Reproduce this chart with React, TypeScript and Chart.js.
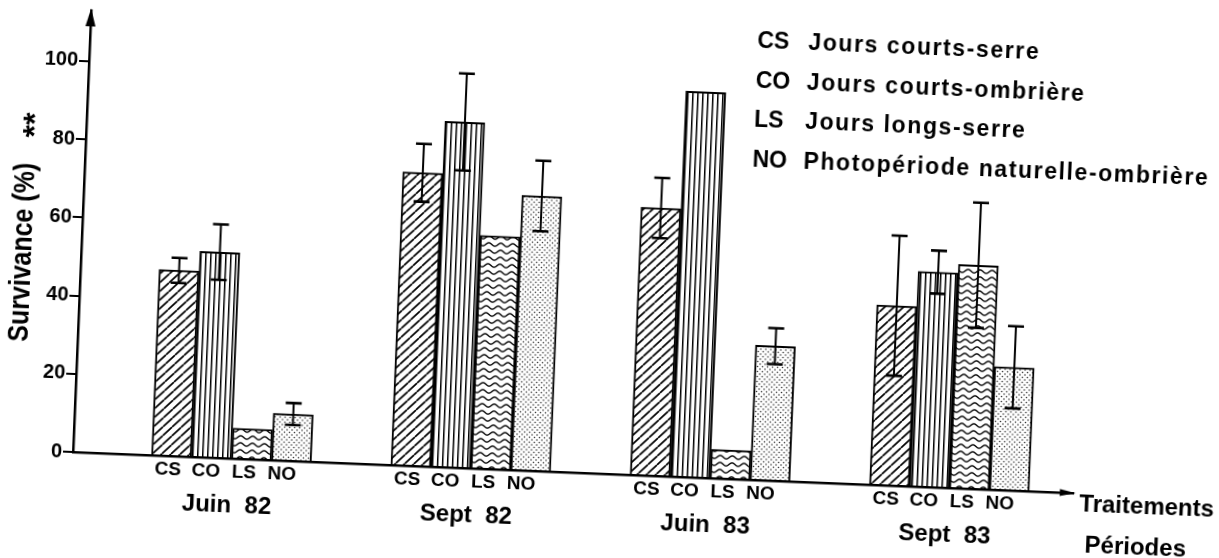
import { useEffect, useRef } from 'react';
import { Chart, registerables } from 'chart.js';

Chart.register(...registerables);

// ---------- data ----------
const periods = ['Juin  82', 'Sept  82', 'Juin  83', 'Sept  83'];
const treatmentCodes = ['CS', 'CO', 'LS', 'NO'];
const treatmentNames = [
  'Jours courts-serre',
  'Jours courts-ombrière',
  'Jours longs-serre',
  'Photopériode naturelle-ombrière',
];
const csValues = [47.5, 75.0, 68.5, 46.0];
const coValues = [52.6, 88.4, 98.6, 55.0];
const lsValues = [7.8, 59.6, 7.4, 57.2];
const noValues = [12.0, 70.3, 34.4, 31.5];
const csErrors = [3.2, 7.4, 7.7, 17.9];
const coErrors = [7.1, 12.4, null, 5.5];
const lsErrors = [null, null, null, 16.0];
const noErrors = [2.8, 9.0, 4.6, 10.5];
const yTicks = [0, 20, 40, 60, 80, 100];
const yAxisTitle = 'Survivance (%)';
const yAxisMark = '**';
const xAxisTitles = ['Traitements', 'Périodes'];

const valueSeries = [csValues, coValues, lsValues, noValues];
const errorSeries = [csErrors, coErrors, lsErrors, noErrors];

const FONT = '"Liberation Sans", Arial, Helvetica, sans-serif';

function makePattern(kind: string): CanvasPattern | string {
  const c = document.createElement('canvas');
  const g = c.getContext('2d');
  if (!g) return '#fff';
  if (kind === 'diag') {
    const s = 9;
    c.width = s; c.height = s;
    g.fillStyle = '#fff'; g.fillRect(0, 0, s, s);
    g.strokeStyle = '#000'; g.lineWidth = 1.7;
    g.beginPath();
    for (const o of [-s, 0, s]) { g.moveTo(o, s); g.lineTo(o + s, 0); }
    g.stroke();
  } else if (kind === 'vert') {
    c.width = 5; c.height = 5;
    g.fillStyle = '#fff'; g.fillRect(0, 0, 5, 5);
    g.fillStyle = '#000'; g.fillRect(2, 0, 1.5, 5);
  } else if (kind === 'wave') {
    const w = 12, h = 7;
    c.width = w; c.height = h;
    g.fillStyle = '#fff'; g.fillRect(0, 0, w, h);
    g.strokeStyle = '#000'; g.lineWidth = 1.4;
    g.beginPath();
    for (let x = -1; x <= w + 1; x += 0.5) {
      const y = 3.5 - 1.6 * Math.cos((2 * Math.PI * x) / w);
      if (x === -1) g.moveTo(x, y); else g.lineTo(x, y);
    }
    g.stroke();
  } else {
    c.width = 5; c.height = 5;
    g.fillStyle = '#fff'; g.fillRect(0, 0, 5, 5);
    g.fillStyle = '#333';
    g.beginPath(); g.arc(1, 1, 0.8, 0, Math.PI * 2); g.fill();
    g.beginPath(); g.arc(3.5, 3.5, 0.8, 0, Math.PI * 2); g.fill();
  }
  return g.createPattern(c, 'repeat') || '#fff';
}

const errorBarPlugin = {
  id: 'errorBars',
  afterDatasetsDraw(chart: any) {
    const ctx = chart.ctx;
    const y = chart.scales.y;
    ctx.save();
    ctx.strokeStyle = '#000';
    errorSeries.forEach((errs, k) => {
      const meta = chart.getDatasetMeta(k);
      meta.data.forEach((bar: any, i: number) => {
        const e = errs[i];
        if (e == null) return;
        const v = valueSeries[k][i];
        const x = bar.x;
        const t = y.getPixelForValue(v + e);
        const b = y.getPixelForValue(v - e);
        ctx.lineWidth = 2;
        ctx.beginPath(); ctx.moveTo(x, t); ctx.lineTo(x, b); ctx.stroke();
        ctx.lineWidth = 2.6;
        ctx.beginPath();
        ctx.moveTo(x - 8, t); ctx.lineTo(x + 8, t);
        ctx.moveTo(x - 8, b); ctx.lineTo(x + 8, b);
        ctx.stroke();
      });
    });
    ctx.restore();
  },
};

const decorPlugin = {
  id: 'decor',
  afterDraw(chart: any) {
    const ctx = chart.ctx;
    const { left, right, top, bottom } = chart.chartArea;
    const xs = chart.scales.x;
    ctx.save();
    ctx.fillStyle = '#000';
    // arrows
    ctx.beginPath();
    ctx.moveTo(left, top - 2); ctx.lineTo(left - 5, top + 16); ctx.lineTo(left + 5, top + 16); ctx.closePath();
    ctx.fill();
    ctx.beginPath();
    ctx.moveTo(right + 2, bottom); ctx.lineTo(right - 14, bottom - 3.5); ctx.lineTo(right - 14, bottom + 3.5); ctx.closePath();
    ctx.fill();

    // category labels
    ctx.textAlign = 'center';
    ctx.textBaseline = 'middle';
    periods.forEach((p, i) => {
      const gc = xs.getPixelForValue(i);
      ctx.font = `bold 19px ${FONT}`;
      treatmentCodes.forEach((code, k) => {
        ctx.fillText(code, gc - 6 + (k - 1.5) * 38, bottom + 14);
      });
      ctx.font = `bold 24px ${FONT}`;
      ctx.fillText(p, gc - 3, bottom + 47);
    });

    // x axis titles
    ctx.textAlign = 'left';
    ctx.font = `bold 24px ${FONT}`;
    ctx.fillText(xAxisTitles[0], right + 6, bottom + 11);
    ctx.fillText(xAxisTitles[1], right + 13, bottom + 52);

    // legend
    treatmentCodes.forEach((code, k) => {
      const yy = bottom - 438 + k * 39.5;
      ctx.font = `bold 23px ${FONT}`;
      (ctx as any).letterSpacing = '0px';
      ctx.fillText(code, left + 667, yy);
      (ctx as any).letterSpacing = '1.6px';
      ctx.fillText(treatmentNames[k], left + 718, yy);
    });
    (ctx as any).letterSpacing = '0px';

    // y axis title
    ctx.translate(left - 58, bottom);
    ctx.rotate(-Math.PI / 2);
    ctx.textAlign = 'center';
    ctx.font = `bold 30px ${FONT}`;
    ctx.fillText(yAxisTitle, 197.5, 0, 179);
    ctx.font = `bold 32px ${FONT}`;
    ctx.fillText(yAxisMark, 325, 8);
    ctx.restore();
  },
};

export default function App() {
  const ref = useRef<HTMLCanvasElement | null>(null);

  useEffect(() => {
    if (!ref.current) return;
    const kinds = ['diag', 'vert', 'wave', 'dots'];
    const chart = new Chart(ref.current, {
      type: 'bar',
      data: {
        datasets: treatmentCodes.map((code, k) => ({
          label: code,
          data: periods.map((_, i) => ({ x: i, y: valueSeries[k][i] })),
          backgroundColor: makePattern(kinds[k]) as any,
          borderColor: '#000',
          borderWidth: 2,
          barThickness: 40,
        })),
      },
      options: {
        animation: false,
        responsive: false,
        devicePixelRatio: 1,
        layout: { padding: { top: 10, right: 144.4, bottom: 0, left: 0 } },
        scales: {
          x: {
            type: 'linear',
            min: -0.662,
            max: 3.52,
            offset: false,
            grid: { display: false },
            ticks: { display: false },
            border: { display: true, color: '#000', width: 2.5 },
            afterFit: (s: any) => { s.height = 106; s.paddingLeft = 0; s.paddingRight = 0; },
          },
          y: {
            min: 0,
            max: 113,
            afterBuildTicks: (s: any) => { s.ticks = yTicks.map((v) => ({ value: v })); },
            ticks: {
              color: '#000',
              padding: 1,
              font: { family: FONT, size: 20, weight: 'bold' },
              callback: (v: any) => String(v),
            },
            grid: {
              display: true,
              drawOnChartArea: false,
              drawTicks: true,
              tickLength: 10,
              color: '#000',
              tickColor: '#000',
              lineWidth: 2,
              tickWidth: 2,
            },
            border: { display: true, color: '#000', width: 2.5 },
            afterFit: (s: any) => { s.width = 73; s.paddingTop = 0; s.paddingBottom = 0; },
          },
        } as any,
        plugins: {
          legend: { display: false },
          tooltip: { enabled: false },
        },
      },
      plugins: [errorBarPlugin, decorPlugin],
    });
    return () => chart.destroy();
  }, []);

  return (
    <div
      style={{
        position: 'absolute',
        left: 0,
        top: 0,
        width: 1219,
        height: 558,
        overflow: 'hidden',
        background: '#fff',
      }}
    >
      <canvas
        ref={ref}
        width={1219}
        height={558}
        style={{
          display: 'block',
          transform: 'rotate(2.35deg)',
          transformOrigin: '73px 452px',
        }}
      />
    </div>
  );
}
